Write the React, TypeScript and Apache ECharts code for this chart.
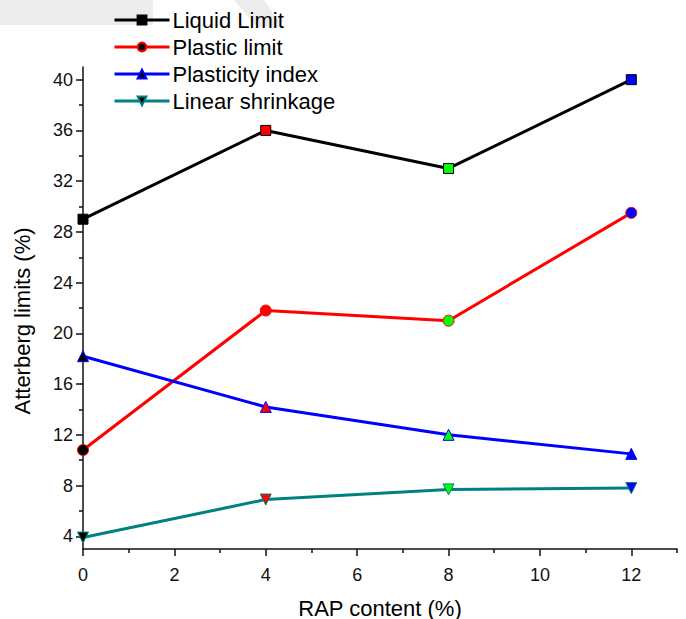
import React, { useEffect, useRef } from "react";
import * as echarts from "echarts";

// RAP content (%) on the x axis
const rapContent = [0, 4, 8, 12];

// Atterberg limits (%)
const liquidLimit = [29, 36, 33, 40];
const plasticLimit = [10.8, 21.8, 21, 29.5];
const plasticityIndex = [18.2, 14.2, 12, 10.5];
const linearShrinkage = [3.9, 6.9, 7.7, 7.8];

const seriesNames = ["Liquid Limit", "Plastic limit", "Plasticity index", "Linear shrinkage"];

// Tick positions
const xMajorTicks = [0, 2, 4, 6, 8, 10, 12];
const xMinorTicks = [1, 3, 5, 7, 9, 11, 13];
const yMajorTicks = [4, 8, 12, 16, 20, 24, 28, 32, 36, 40];
const yMinorTicks = [6, 10, 14, 18, 22, 26, 30, 34, 38];

// point fill colours cycle per sample
const pointColors = ["#000000", "#ff0000", "#00ff00", "#0000ff"];

const FONT = "Arial, 'Liberation Sans', sans-serif";

export default function App() {
  const ref = useRef<HTMLDivElement>(null);

  useEffect(() => {
    if (!ref.current) return;
    const chart = echarts.init(ref.current, null, { renderer: "svg" });

    const makeSeries = (
      name: string,
      values: number[],
      lineColor: string,
      symbol: string,
      rotate = 0
    ) => ({
      name,
      type: "line",
      xAxisIndex: 0,
      yAxisIndex: 0,
      data: values.map((v, i) => ({
        value: [rapContent[i], v],
        itemStyle: { color: pointColors[i], borderColor: lineColor, borderWidth: 1 },
      })),
      symbol,
      symbolRotate: rotate,
      symbolSize: symbol === "rect" ? 10 : 11,
      clip: false,
      lineStyle: { color: lineColor, width: 3 },
      itemStyle: { color: "#000000", borderColor: lineColor, borderWidth: 1 },
      z: 3,
    });

    const axisLine = { show: true, lineStyle: { color: "#111", width: 1.5 } };
    const legendLine = (name: string, color: string) => ({
      name,
      lineStyle: { color, width: 3 },
    });

    chart.setOption({
      animation: false,
      backgroundColor: "#ffffff",
      graphic: [
        {
          type: "polygon",
          z: 0,
          silent: true,
          shape: { points: [[0, 0], [153, 0], [153, 25], [0, 25]] },
          style: { fill: "#ececec" },
        },
        {
          type: "polygon",
          z: 0,
          silent: true,
          shape: { points: [[234, 0], [264, 0], [283, 27], [257, 27]] },
          style: { fill: "#ececec" },
        },
      ],
      legend: {
        orient: "vertical",
        left: 113,
        top: 9,
        padding: 0,
        itemWidth: 55,
        itemHeight: 11,
        itemGap: 5,
        textStyle: { fontFamily: FONT, fontSize: 22, color: "#000", padding: [0, 0, 0, -2] },
        data: [
          legendLine(seriesNames[0], "#000000"),
          legendLine(seriesNames[1], "#ff0000"),
          legendLine(seriesNames[2], "#0000ff"),
          legendLine(seriesNames[3], "#008080"),
        ],
      },
      grid: { left: 83, right: 9, top: 67, bottom: 70, containLabel: false, outerBoundsMode: "none" },
      xAxis: [
        {
          type: "value",
          min: 0,
          max: 13,
          name: "RAP content (%)",
          nameLocation: "middle",
          nameGap: 48,
          nameTextStyle: { fontFamily: FONT, fontSize: 22, color: "#000" },
          axisLine,
          axisTick: { show: true, customValues: xMajorTicks, length: 7, lineStyle: { color: "#111", width: 1.5 } },
          axisLabel: { customValues: xMajorTicks, fontFamily: FONT, fontSize: 18, color: "#111", margin: 17 },
          splitLine: { show: false },
        },
        {
          type: "value",
          min: 0,
          max: 13,
          position: "bottom",
          axisLine: { show: false },
          axisTick: { show: true, customValues: xMinorTicks, length: 4, lineStyle: { color: "#111", width: 1.5 } },
          axisLabel: { show: false },
          splitLine: { show: false },
        },
      ],
      yAxis: [
        {
          type: "value",
          min: 3,
          max: 41,
          name: "Atterberg limits (%)",
          nameLocation: "middle",
          nameGap: 50,
          nameTextStyle: { fontFamily: FONT, fontSize: 22, color: "#000", padding: [0, 26, 0, 0] },
          axisLine,
          axisTick: { show: true, customValues: yMajorTicks, length: 7, lineStyle: { color: "#111", width: 1.5 } },
          axisLabel: { customValues: yMajorTicks, fontFamily: FONT, fontSize: 18, color: "#111", margin: 10 },
          splitLine: { show: false },
        },
        {
          type: "value",
          min: 3,
          max: 41,
          position: "left",
          axisLine: { show: false },
          axisTick: { show: true, customValues: yMinorTicks, length: 4, lineStyle: { color: "#111", width: 1.5 } },
          axisLabel: { show: false },
          splitLine: { show: false },
        },
      ],
      series: [
        makeSeries(seriesNames[0], liquidLimit, "#000000", "rect"),
        makeSeries(seriesNames[1], plasticLimit, "#ff0000", "circle"),
        makeSeries(seriesNames[2], plasticityIndex, "#0000ff", "triangle"),
        makeSeries(seriesNames[3], linearShrinkage, "#008080", "triangle", 180),
      ],
    });

    return () => chart.dispose();
  }, []);

  return (
    <div
      ref={ref}
      style={{ position: "fixed", left: 0, top: 0, width: 686, height: 619, background: "#fff" }}
    />
  );
}
